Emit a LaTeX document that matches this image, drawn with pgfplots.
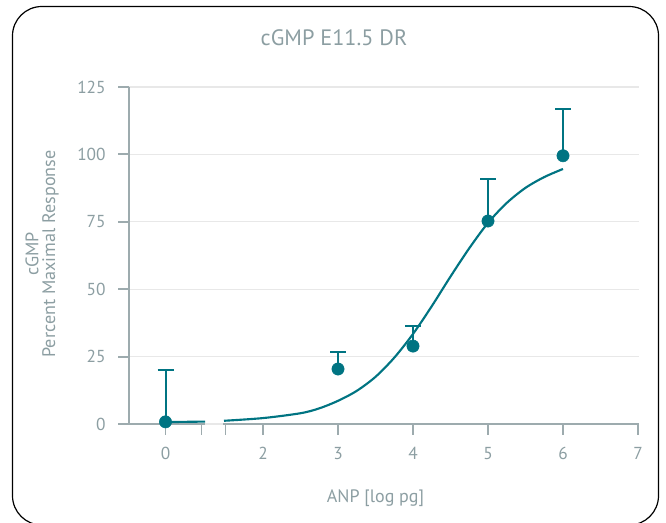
\documentclass[border=0pt]{standalone}
\usepackage{fontspec}
\setmainfont{PT Sans}
\usepackage{pgfplots}
\pgfplotsset{compat=1.18}
\definecolor{teal1}{HTML}{007482}
\definecolor{txtgray}{HTML}{8C9EA2}
\definecolor{axgray}{HTML}{9DABAE}
\definecolor{gridgray}{HTML}{E8E8E8}
\begin{document}
\begin{tikzpicture}[x=0.75pt,y=-0.75pt]
\useasboundingbox (0,0) rectangle (666,522);
\begin{scope}
\clip (0,0) rectangle (666,522);
\draw[line width=0.9pt, black, rounded corners=22pt] (12.5,6.5) rectangle (658.5,525);
\end{scope}
\node[txtgray, font=\fontsize{16.7}{19}\selectfont] at (334,38) {cGMP E11.5 DR};
\node[txtgray, font=\fontsize{13.5}{15}\selectfont] at (375.5,498) {ANP [log pg]};
\node[txtgray, font=\fontsize{13.6}{16}\selectfont, rotate=90] at (32,254) {cGMP};
\node[txtgray, font=\fontsize{13.6}{16}\selectfont, rotate=90] at (50.5,254) {Percent Maximal Response};
\begin{axis}[
  at={(96.75pt,-318pt)}, anchor=south west,
  scale only axis, width=382.5pt, height=252.75pt,
  xmin=0.2133, xmax=7.0133, ymin=0, ymax=125,
  axis x line*=bottom, axis y line*=left,
  x axis line style={draw=none},
  y axis line style={draw=axgray, line width=1.4pt, -},
  xtick={0.7,1.18,1.5,2,3,4,5,6,7},
  xticklabels={0,,,2,3,4,5,6,7},
  ytick={0,25,50,75,100,125},
  tick align=outside,
  major tick length=8pt,
  tick style={draw=axgray, line width=1.4pt},
  ymajorgrids, grid style={draw=gridgray, line width=0.9pt},
  /pgf/number format/assume math mode=true,
  ticklabel style={font=\fontsize{13}{15}\selectfont, text=txtgray},
  yticklabel style={xshift=-6pt},
  xticklabel style={yshift=-6pt},
  clip=false,
]
\draw[axgray, line width=1.4pt] (axis cs:0.2133,0) -- (axis cs:1.227,0);
\draw[axgray, line width=1.4pt] (axis cs:1.47,0) -- (axis cs:7.0133,0);
\addplot[teal1, line width=1.6pt, no marks, smooth] coordinates {
(0.7,0.7)(0.95,0.8)(1.227,0.9)};
\addplot[teal1, line width=1.6pt, no marks, smooth] coordinates {
(1.48,1.2)(2,2.2)(2.5,4.0)(2.75,5.8)(3,8.6)(3.25,12.3)(3.5,17.5)(3.75,24.6)(4,33.4)(4.25,43.7)(4.5,54.7)(4.75,65.2)(5,74.6)(5.25,82.0)(5.5,87.6)(5.75,91.6)(6,94.6)};
\addplot[teal1, only marks, mark=*, mark size=4.6pt,
  error bars/.cd, y dir=plus, y explicit,
  error bar style={line width=1.5pt, teal1},
  error mark=|,
  error mark options={line width=1.5pt, mark size=6pt, teal1}]
coordinates {
(0.7,0.8) +- (0,19.2)
(3,20.4) +- (0,6.3)
(4,28.9) +- (0,7.6)
(5,75.3) +- (0,15.5)
(6,99.5) +- (0,17.3)
};
\end{axis}
\end{tikzpicture}
\end{document}
